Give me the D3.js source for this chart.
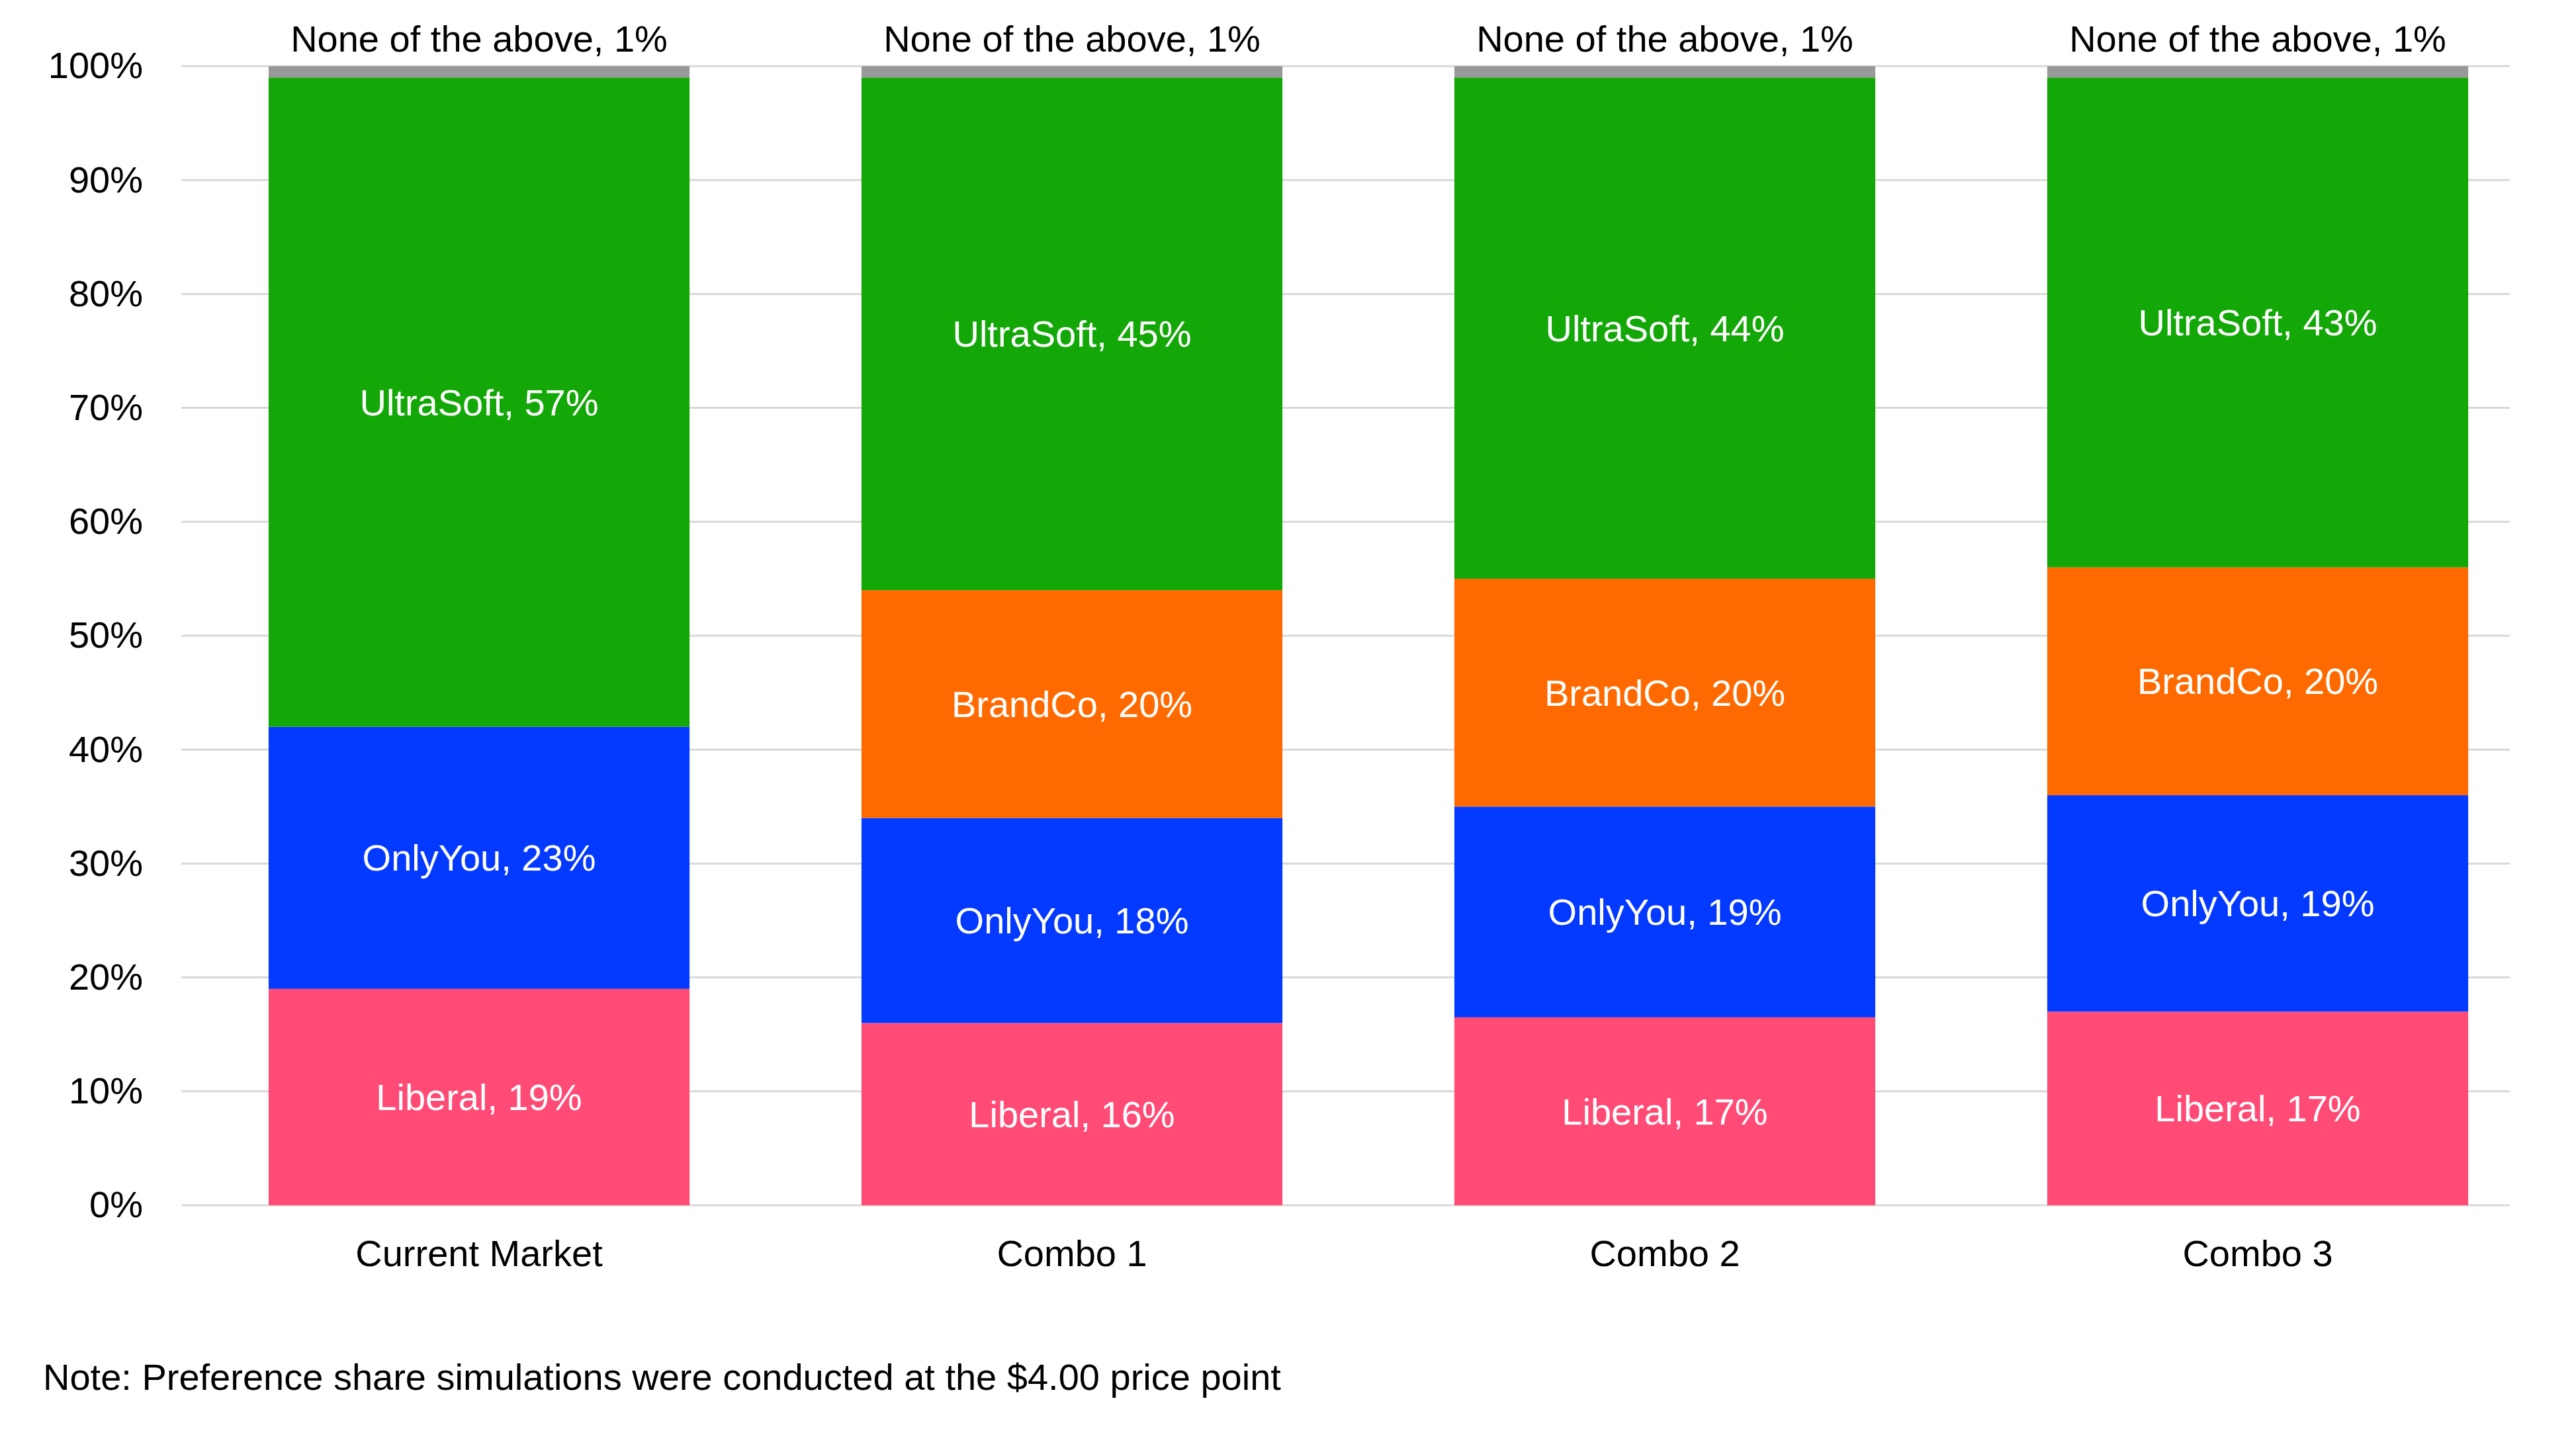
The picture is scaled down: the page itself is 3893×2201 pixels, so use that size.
<!DOCTYPE html>
<html>
<head>
<meta charset="utf-8">
<script src="https://cdn.jsdelivr.net/npm/d3@7"></script>
<style>
  body { margin: 0; background: #fff; }
  text { font-family: "Liberation Sans", Arial, sans-serif; }
</style>
</head>
<body>
<svg id="canvas"></svg>
<script>
let width = 3893;
let height = 2201;

let categories = ["Current Market", "Combo 1", "Combo 2", "Combo 3"];
let brands = ["Liberal", "OnlyYou", "BrandCo", "UltraSoft", "None of the above"];
let colors = ["#ff4b76", "#0439ff", "#ff6a00", "#13a808", "#999999"];

// segment heights, and the labels printed on them
let liberal = [19, 16, 16.5, 17];
let onlyYou = [23, 18, 18.5, 19];
let brandCo = [0, 20, 20, 20];
let ultraSoft = [57, 45, 44, 43];
let noneAbove = [1, 1, 1, 1];

let liberalLabel = [19, 16, 17, 17];
let onlyYouLabel = [23, 18, 19, 19];
let brandCoLabel = [0, 20, 20, 20];
let ultraSoftLabel = [57, 45, 44, 43];
let noneLabel = [1, 1, 1, 1];

let yTicks = [0, 10, 20, 30, 40, 50, 60, 70, 80, 90, 100];

let series = [liberal, onlyYou, brandCo, ultraSoft, noneAbove];
let labels = [liberalLabel, onlyYouLabel, brandCoLabel, ultraSoftLabel, noneLabel];

let canvas = d3.select("#canvas").attr("width", width).attr("height", height);

let xScale = d3.scaleBand().domain(categories).range([276, 3860]).paddingInner(0.29).paddingOuter(0.145);
let yScale = d3.scaleLinear().domain([0, 100]).range([1822, 100]);

// gridlines
canvas.append("g")
  .selectAll("line")
  .data(yTicks)
  .enter()
  .append("line")
  .attr("x1", 274)
  .attr("x2", 3793)
  .attr("y1", (d) => yScale(d))
  .attr("y2", (d) => yScale(d))
  .attr("stroke", "#d9d9d9")
  .attr("stroke-width", 3);

let yAxis = d3.axisLeft(yScale).tickValues(yTicks).tickFormat((d) => d + "%").tickSize(0).tickPadding(58);
let yg = canvas.append("g").attr("transform", "translate(274,0)").call(yAxis);
yg.select(".domain").remove();
yg.selectAll("text").attr("font-size", 56).attr("fill", "#000").attr("font-family", "Liberation Sans, Arial, sans-serif");

// build stacked segments
let segments = [];
categories.forEach((cat, i) => {
  let base = 0;
  series.forEach((s, j) => {
    segments.push({ cat: cat, brand: brands[j], color: colors[j], y0: base, y1: base + s[i], label: labels[j][i], j: j });
    base += s[i];
  });
});
segments = segments.filter((d) => d.y1 > d.y0);

canvas.append("g")
  .selectAll("rect")
  .data(segments)
  .enter()
  .append("rect")
  .attr("x", (d) => xScale(d.cat))
  .attr("width", xScale.bandwidth())
  .attr("y", (d) => yScale(d.y1))
  .attr("height", (d) => yScale(d.y0) - yScale(d.y1))
  .attr("fill", (d) => d.color);

canvas.append("g")
  .selectAll("text")
  .data(segments)
  .enter()
  .append("text")
  .attr("x", (d) => xScale(d.cat) + xScale.bandwidth() / 2)
  .attr("y", (d) => d.j === 4 ? yScale(d.y1) - 22 : yScale((d.y0 + d.y1) / 2))
  .attr("dy", (d) => d.j === 4 ? 0 : "0.35em")
  .attr("text-anchor", "middle")
  .attr("font-size", 56)
  .attr("fill", (d) => d.j === 4 ? "#000" : "#fff")
  .text((d) => d.brand + ", " + d.label + "%");

let xAxis = d3.axisBottom(xScale).tickSize(0).tickPadding(52);
let xg = canvas.append("g").attr("transform", "translate(0,1822)").call(xAxis);
xg.select(".domain").remove();
xg.selectAll("text").attr("font-size", 56).attr("fill", "#000").attr("font-family", "Liberation Sans, Arial, sans-serif");

canvas.append("text")
  .attr("x", 65)
  .attr("y", 2101)
  .attr("font-size", 56)
  .attr("fill", "#000")
  .text("Note: Preference share simulations were conducted at the $4.00 price point");
</script>
</body>
</html>
